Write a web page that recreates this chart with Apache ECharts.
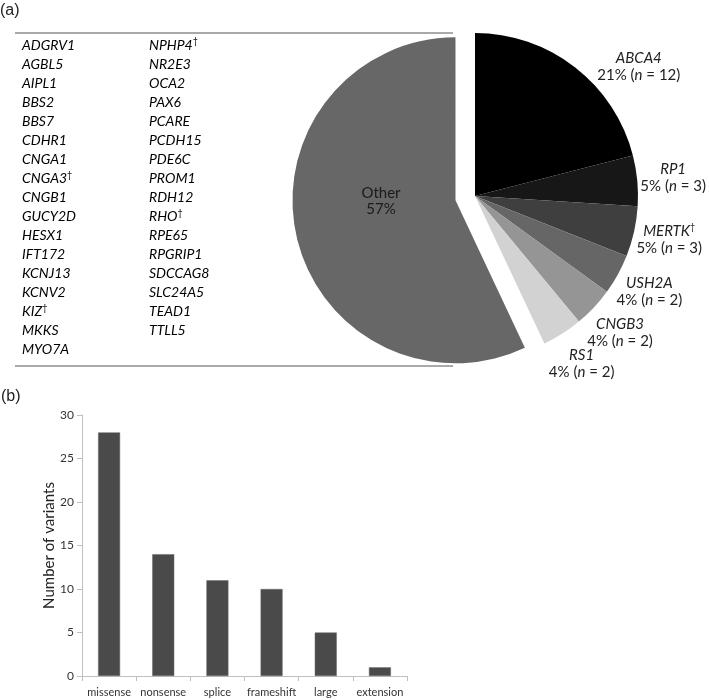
<!DOCTYPE html>
<html>
<head>
<meta charset="utf-8">
<script src="https://cdn.jsdelivr.net/npm/echarts@6/dist/echarts.min.js"></script>
<style>
html,body{margin:0;padding:0;background:#fff;}
#c{width:709px;height:700px;}
</style>
</head>
<body>
<div id="c"></div>
<script>
// ---- data ----
const geneCol1 = ['ADGRV1','AGBL5','AIPL1','BBS2','BBS7','CDHR1','CNGA1','CNGA3†','CNGB1','GUCY2D','HESX1','IFT172','KCNJ13','KCNV2','KIZ†','MKKS','MYO7A'];
const geneCol2 = ['NPHP4†','NR2E3','OCA2','PAX6','PCARE','PCDH15','PDE6C','PROM1','RDH12','RHO†','RPE65','RPGRIP1','SDCCAG8','SLC24A5','TEAD1','TTLL5'];
const pieNames = ['ABCA4','RP1','MERTK†','USH2A','CNGB3','RS1','Other'];
const piePct = [21,5,5,4,4,4,57];
const pieN = [12,3,3,2,2,2,null];
const pieColors = ['#000000','#171717','#3f3f3f','#666666','#959595','#d2d2d2','#676767'];
const barCats = ['missense','nonsense','splice','frameshift','large','extension'];
const barVals = [28,14,11,10,5,1];

const FONT = 'Lato, "Open Sans", sans-serif';

const PIE_CX = 475, PIE_CY = 196, PIE_R = 163;

function geneRich(g){
  if (g.endsWith('†')) return '{g|' + g.slice(0,-1) + '}{d|†}';
  return '{g|' + g + '}';
}
const geneRichStyle = {
  g:{fontFamily:FONT,fontStyle:'italic',fontSize:14,color:'#222'},
  d:{fontFamily:FONT,fontSize:9,color:'#222',padding:[0,0,7,0]}
};

const graphics = [];
graphics.push({type:'text',left:0,top:3,style:{text:'(a)',font:'16px "Liberation Sans", Arial, sans-serif',fill:'#222'}});
graphics.push({type:'text',left:1,top:389,style:{text:'(b)',font:'16px "Liberation Sans", Arial, sans-serif',fill:'#222'}});
graphics.push({type:'line',shape:{x1:15,y1:33,x2:453,y2:33},style:{stroke:'#555',lineWidth:1}});
graphics.push({type:'line',shape:{x1:15,y1:366,x2:453,y2:366},style:{stroke:'#555',lineWidth:1}});
const rowStep = 19.06;
geneCol1.forEach((g,i)=>{
  graphics.push({type:'text',x:22,y:45+i*rowStep,style:{text:geneRich(g),rich:geneRichStyle,verticalAlign:'middle',align:'left'}});
});
geneCol2.forEach((g,i)=>{
  graphics.push({type:'text',x:149,y:45+i*rowStep,style:{text:geneRich(g),rich:geneRichStyle,verticalAlign:'middle',align:'left'}});
});
// label of the exploded "Other" slice (inside the slice)
const otherIdx = pieNames.indexOf('Other');
graphics.push({type:'text',x:PIE_CX-94,y:PIE_CY+5,z:100,
  style:{text:pieNames[otherIdx] + '\n' + piePct[otherIdx] + '%',font:'15px ' + FONT,fill:'#1a1a1a',
    align:'center',verticalAlign:'middle',lineHeight:16}});

// mid angles (degrees clockwise from 12 o'clock) computed from the data
const pieTotal = piePct.reduce((a,b)=>a+b,0);
const midAngles = [];
(function(){let acc=0; piePct.forEach(v=>{midAngles.push((acc+v/2)/pieTotal*360); acc+=v;});})();

const pieData = pieNames.map((n,i)=>{
  const item = {name:n,value:piePct[i],itemStyle:{color:pieColors[i]}};
  if (n==='Other'){
    item.selected = true;
    item.label = {show:false};
  }
  return item;
});

const chart = echarts.init(document.getElementById('c'),null,{renderer:'canvas'});
chart.setOption({
  animation:false,
  backgroundColor:'#fff',
  graphic:graphics,
  grid:{left:82,right:302,top:415,bottom:24},
  xAxis:{type:'category',data:barCats,
    axisLine:{lineStyle:{color:'#bfbfbf'}},
    axisTick:{show:true,alignWithLabel:false,length:5,lineStyle:{color:'#bfbfbf'}},
    axisLabel:{interval:0,color:'#333',fontFamily:FONT,fontSize:11,margin:11}},
  yAxis:{type:'value',min:0,max:30,interval:5,
    name:'Number of variants',nameLocation:'middle',nameGap:25,
    nameTextStyle:{fontFamily:FONT,fontSize:15,color:'#222'},
    axisLine:{show:true,lineStyle:{color:'#bfbfbf'}},
    axisTick:{show:true,length:5,lineStyle:{color:'#bfbfbf'}},
    splitLine:{show:false},
    axisLabel:{color:'#333',fontFamily:FONT,fontSize:12,margin:8}},
  series:[
    {type:'bar',data:barVals,barWidth:22,
      itemStyle:{color:'#4a4a4a',borderColor:'#6a6a6a',borderWidth:0.5},
      emphasis:{disabled:true},silent:true},
    {type:'pie',center:[PIE_CX,PIE_CY],radius:[0,PIE_R],startAngle:90,clockwise:true,
      selectedMode:'single',selectedOffset:20,
      avoidLabelOverlap:false,silent:true,emphasis:{disabled:true},
      label:{show:true,position:'outside',color:'#222',
        formatter:function(p){
          const i=p.dataIndex; const n=pieNames[i];
          let g = n.endsWith('†') ? '{g|'+n.slice(0,-1)+'}{d|†}' : '{g|'+n+'}';
          return g + '\n{t|' + piePct[i] + '% (}{n|n}{t| = ' + pieN[i] + ')}';
        },
        rich:{
          g:{fontFamily:FONT,fontStyle:'italic',fontSize:15,color:'#222',lineHeight:17},
          d:{fontFamily:FONT,fontSize:9,color:'#222',padding:[0,0,7,0]},
          t:{fontFamily:FONT,fontSize:15,color:'#222',lineHeight:17},
          n:{fontFamily:FONT,fontStyle:'italic',fontSize:15,color:'#222',lineHeight:17}
        }},
      labelLine:{show:false,length:8,length2:0},
      labelLayout:function(p){
        const i=p.dataIndex;
        let ang = midAngles[i], dist = PIE_R + 36;
        if (i===0){ ang = 51.6; dist = PIE_R + 46; }
        const a = ang*Math.PI/180;
        return {x:PIE_CX + dist*Math.sin(a), y:PIE_CY - dist*Math.cos(a), align:'center', verticalAlign:'middle'};
      },
      data:pieData}
  ]
});
</script>
</body>
</html>
